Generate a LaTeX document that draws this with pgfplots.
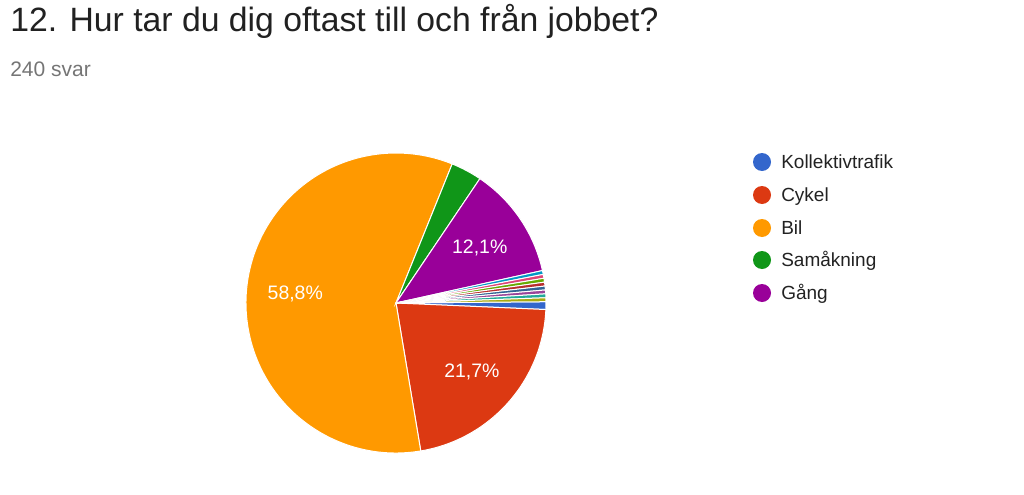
\documentclass[border=0pt]{standalone}
\usepackage{pgfplots}
\pgfplotsset{compat=1.18}
\usepackage{pgfplotstable}
\usetikzlibrary{calc}
\usepackage{fontspec}
\setmainfont{Liberation Sans}
\definecolor{c0}{HTML}{3366CC}
\definecolor{c1}{HTML}{DC3912}
\definecolor{c2}{HTML}{FF9900}
\definecolor{c3}{HTML}{109618}
\definecolor{c4}{HTML}{990099}
\definecolor{c5}{HTML}{0099C6}
\definecolor{c6}{HTML}{DD4477}
\definecolor{c7}{HTML}{66AA00}
\definecolor{c8}{HTML}{B82E2E}
\definecolor{c9}{HTML}{316395}
\definecolor{c10}{HTML}{994499}
\definecolor{c11}{HTML}{22AA99}
\definecolor{c12}{HTML}{AAAA11}
\definecolor{titlecol}{HTML}{212121}
\definecolor{subcol}{HTML}{757575}
\definecolor{legcol}{HTML}{222222}
% answers (240 svar)
\pgfplotstableread{
name value col
Kollektivtrafik 2 c0
Cykel 52 c1
Bil 141 c2
Samakning 8 c3
Gang 29 c4
o1 1 c5
o2 1 c6
o3 1 c7
o4 1 c8
o5 1 c9
o6 1 c10
o7 1 c11
o8 1 c12
}\piedata
\tikzset{legtext/.style={anchor=base west,text=legcol,font=\fontsize{14.25pt}{16pt}\selectfont,inner sep=0pt}}
\begin{document}
\begin{tikzpicture}
\begin{axis}[x=0.75pt,y=0.75pt,xmin=0,xmax=1024,ymin=0,ymax=494,
  hide axis,clip=false,scale only axis]
\addplot[draw=none] coordinates {(0,0) (1024,494)};
\pgfplotstablegetrowsof{\piedata}
\pgfmathtruncatemacro\nrows{\pgfplotsretval-1}
\gdef\cum{0.5}
\pgfplotsforeachungrouped \i in {0,...,\nrows}{%
  \pgfplotstablegetelem{\i}{value}\of\piedata \let\v\pgfplotsretval
  \pgfplotstablegetelem{\i}{col}\of\piedata \let\c\pgfplotsretval
  \pgfmathsetmacro\a{\cum}%
  \pgfmathsetmacro\b{\cum-\v*1.5}%
  \pgfmathsetmacro\m{(\a+\b)/2}%
  \edef\temp{\noexpand\fill[\c,draw=white,line width=0.75pt] (axis cs:396,191) -- ++(\a:112.5pt) arc[start angle=\a,end angle=\b,radius=112.5pt] -- cycle;}%
  \temp
  \pgfmathparse{\v>12?1:0}%
  \ifnum\pgfmathresult=1
    \pgfmathsetmacro\p{\v/2.4+0.001}%
    \edef\temp{\noexpand\node[text=white,font=\noexpand\fontsize{14.6pt}{16pt}\noexpand\selectfont] at ($(axis cs:396,189.5)+(\m:76pt)$) {\noexpand\pgfmathprintnumber[fixed,precision=1,use comma,assume math mode=true]{\p}\noexpand\%};}%
    \temp
  \fi
  \global\let\cum\b
}
% title
\node[anchor=base west,text=titlecol,font=\fontsize{25.3pt}{28pt}\selectfont,inner sep=0pt] at (axis cs:10,462) {12. Hur tar du dig oftast till och från jobbet?};
\node[anchor=base west,text=subcol,font=\fontsize{15.75pt}{18pt}\selectfont,inner sep=0pt] at (axis cs:10,417) {240 svar};
% legend
\fill[c0] (axis cs:762,332) circle[radius=6.75pt];
\node[legtext] at (axis cs:781,325.2) {Kollektivtrafik};
\fill[c1] (axis cs:762,299) circle[radius=6.75pt];
\node[legtext] at (axis cs:781,292.2) {Cykel};
\fill[c2] (axis cs:762,266) circle[radius=6.75pt];
\node[legtext] at (axis cs:781,259.2) {Bil};
\fill[c3] (axis cs:762,234) circle[radius=6.75pt];
\node[legtext] at (axis cs:781,227.2) {Samåkning};
\fill[c4] (axis cs:762,201) circle[radius=6.75pt];
\node[legtext] at (axis cs:781,194.2) {Gång};
\end{axis}
\end{tikzpicture}
\end{document}
